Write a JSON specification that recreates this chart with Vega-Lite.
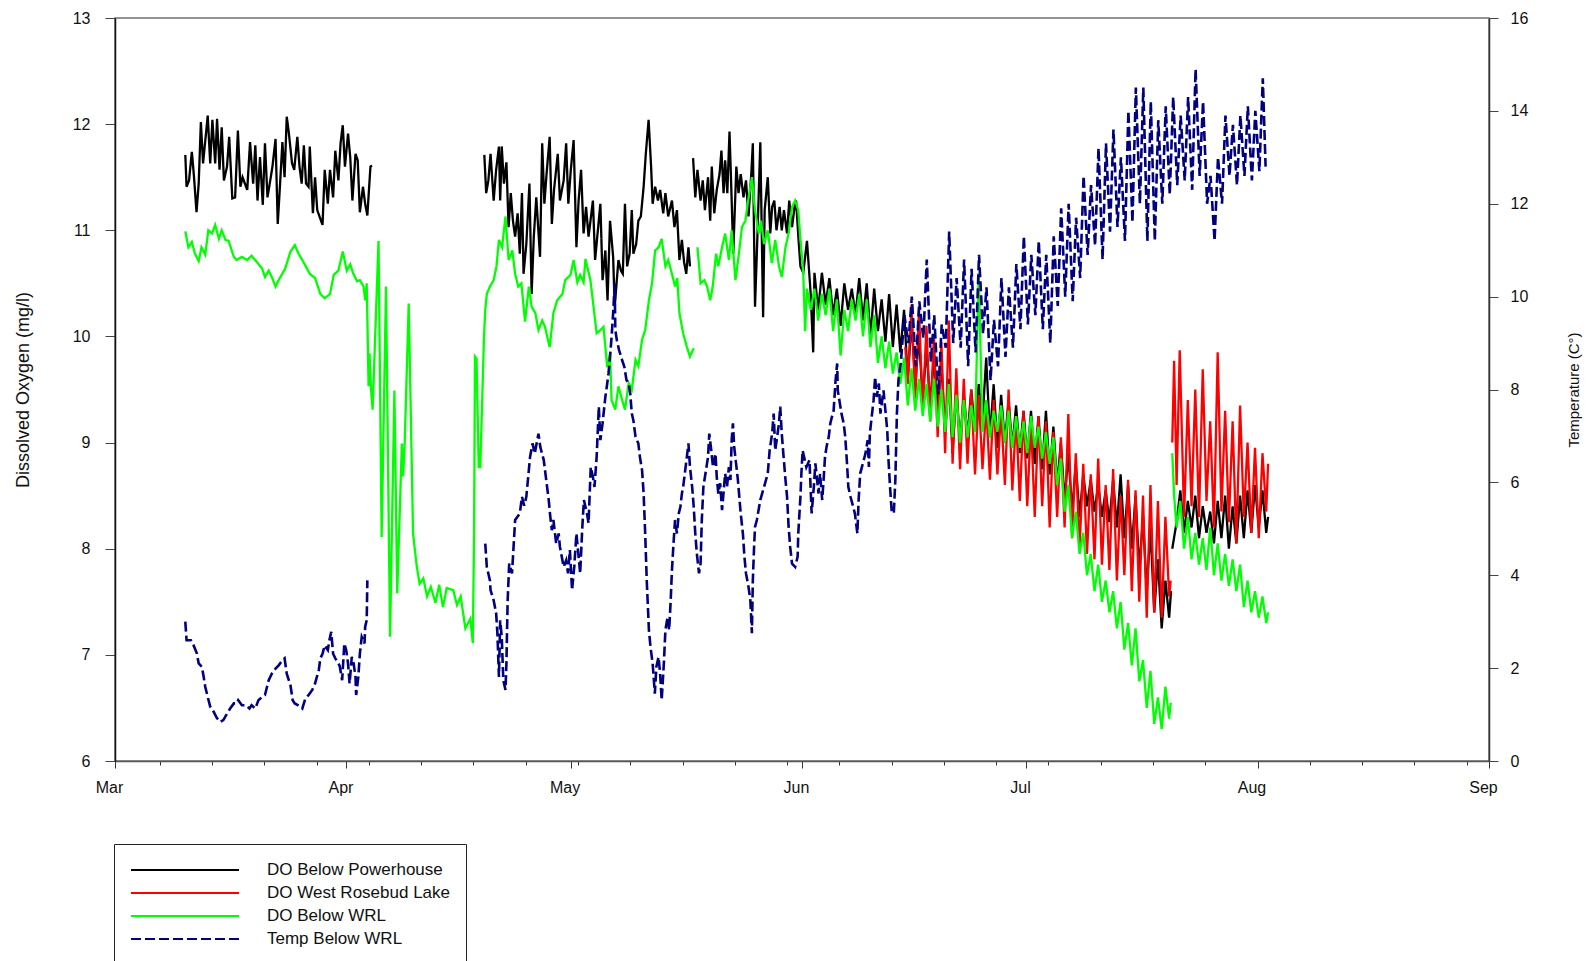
{
  "$schema": "https://vega.github.io/schema/vega-lite/v6.json",
  "width": 1374,
  "height": 743,
  "autosize": {"type": "none"},
  "padding": {"left": 115, "top": 18, "right": 100, "bottom": 200},
  "background": "white",
  "config": {
    "font": "Liberation Sans",
    "view": {"stroke": "#707070", "strokeWidth": 1.5},
    "axis": {"grid": false, "labelFont": "Liberation Sans", "titleFont": "Liberation Sans", "labelColor": "#111111", "titleColor": "#111111", "titleFontWeight": "normal", "labelFlush": false, "labelOverlap": false, "labelBound": false}
  },
  "layer": [
    {
      "data": {
        "format": {"parse": {"t": "date:'%Y-%m-%d %H'"}},
        "values": [
          {"g":"P1","t":"2004-03-10 10","v":11.71},{"g":"P1","t":"2004-03-10 14","v":11.41},{"g":"P1","t":"2004-03-10 22","v":11.47},{"g":"P1","t":"2004-03-11 07","v":11.74},{"g":"P1","t":"2004-03-11 14","v":11.50},{"g":"P1","t":"2004-03-11 22","v":11.17},{"g":"P1","t":"2004-03-12 05","v":11.44},{"g":"P1","t":"2004-03-12 12","v":12.02},{"g":"P1","t":"2004-03-12 19","v":11.63},{"g":"P1","t":"2004-03-13 10","v":12.08},{"g":"P1","t":"2004-03-13 18","v":11.63},{"g":"P1","t":"2004-03-14 01","v":12.04},{"g":"P1","t":"2004-03-14 10","v":11.63},{"g":"P1","t":"2004-03-14 16","v":12.05},{"g":"P1","t":"2004-03-15 00","v":11.57},{"g":"P1","t":"2004-03-15 07","v":11.97},{"g":"P1","t":"2004-03-15 14","v":11.47},{"g":"P1","t":"2004-03-16 00","v":11.60},{"g":"P1","t":"2004-03-16 07","v":11.88},{"g":"P1","t":"2004-03-16 17","v":11.30},{"g":"P1","t":"2004-03-17 02","v":11.31},{"g":"P1","t":"2004-03-17 11","v":11.94},{"g":"P1","t":"2004-03-17 19","v":11.41},{"g":"P1","t":"2004-03-18 02","v":11.50},{"g":"P1","t":"2004-03-18 17","v":11.38},{"g":"P1","t":"2004-03-19 02","v":11.83},{"g":"P1","t":"2004-03-19 12","v":11.44},{"g":"P1","t":"2004-03-19 19","v":11.80},{"g":"P1","t":"2004-03-20 02","v":11.28},{"g":"P1","t":"2004-03-20 10","v":11.69},{"g":"P1","t":"2004-03-20 19","v":11.24},{"g":"P1","t":"2004-03-21 02","v":11.82},{"g":"P1","t":"2004-03-21 10","v":11.31},{"g":"P1","t":"2004-03-21 19","v":11.47},{"g":"P1","t":"2004-03-22 02","v":11.60},{"g":"P1","t":"2004-03-22 12","v":11.86},{"g":"P1","t":"2004-03-22 19","v":11.06},{"g":"P1","t":"2004-03-23 02","v":11.41},{"g":"P1","t":"2004-03-23 10","v":11.83},{"g":"P1","t":"2004-03-23 17","v":11.50},{"g":"P1","t":"2004-03-24 00","v":12.07},{"g":"P1","t":"2004-03-24 07","v":11.91},{"g":"P1","t":"2004-03-24 17","v":11.63},{"g":"P1","t":"2004-03-25 00","v":11.57},{"g":"P1","t":"2004-03-25 10","v":11.88},{"g":"P1","t":"2004-03-25 17","v":11.60},{"g":"P1","t":"2004-03-26 00","v":11.44},{"g":"P1","t":"2004-03-26 07","v":11.80},{"g":"P1","t":"2004-03-26 14","v":11.44},{"g":"P1","t":"2004-03-26 22","v":11.41},{"g":"P1","t":"2004-03-27 02","v":11.79},{"g":"P1","t":"2004-03-27 12","v":11.16},{"g":"P1","t":"2004-03-27 19","v":11.50},{"g":"P1","t":"2004-03-28 02","v":11.19},{"g":"P1","t":"2004-03-28 19","v":11.05},{"g":"P1","t":"2004-03-29 02","v":11.57},{"g":"P1","t":"2004-03-29 12","v":11.25},{"g":"P1","t":"2004-03-29 19","v":11.57},{"g":"P1","t":"2004-03-30 05","v":11.31},{"g":"P1","t":"2004-03-30 12","v":11.75},{"g":"P1","t":"2004-03-30 22","v":11.47},{"g":"P1","t":"2004-03-31 05","v":11.82},{"g":"P1","t":"2004-03-31 12","v":11.99},{"g":"P1","t":"2004-03-31 19","v":11.60},{"g":"P1","t":"2004-04-01 05","v":11.91},{"g":"P1","t":"2004-04-01 12","v":11.69},{"g":"P1","t":"2004-04-01 19","v":11.28},{"g":"P1","t":"2004-04-02 05","v":11.72},{"g":"P1","t":"2004-04-02 12","v":11.66},{"g":"P1","t":"2004-04-02 19","v":11.17},{"g":"P1","t":"2004-04-03 05","v":11.41},{"g":"P1","t":"2004-04-03 12","v":11.25},{"g":"P1","t":"2004-04-03 19","v":11.14},{"g":"P1","t":"2004-04-04 05","v":11.60},{"g":"P1","t":"2004-04-04 10","v":11.61},
          {"g":"P2","t":"2004-04-19 11","v":11.71},{"g":"P2","t":"2004-04-19 17","v":11.35},{"g":"P2","t":"2004-04-20 00","v":11.47},{"g":"P2","t":"2004-04-20 07","v":11.72},{"g":"P2","t":"2004-04-20 17","v":11.28},{"g":"P2","t":"2004-04-21 01","v":11.57},{"g":"P2","t":"2004-04-21 10","v":11.79},{"g":"P2","t":"2004-04-21 14","v":11.28},{"g":"P2","t":"2004-04-21 19","v":11.79},{"g":"P2","t":"2004-04-22 02","v":11.44},{"g":"P2","t":"2004-04-22 10","v":11.64},{"g":"P2","t":"2004-04-22 17","v":11.03},{"g":"P2","t":"2004-04-23 00","v":11.35},{"g":"P2","t":"2004-04-23 07","v":11.09},{"g":"P2","t":"2004-04-23 14","v":10.94},{"g":"P2","t":"2004-04-23 22","v":11.16},{"g":"P2","t":"2004-04-24 05","v":10.78},{"g":"P2","t":"2004-04-24 12","v":11.35},{"g":"P2","t":"2004-04-24 17","v":10.59},{"g":"P2","t":"2004-04-25 02","v":10.87},{"g":"P2","t":"2004-04-25 12","v":11.44},{"g":"P2","t":"2004-04-25 19","v":10.40},{"g":"P2","t":"2004-04-26 02","v":10.94},{"g":"P2","t":"2004-04-26 10","v":11.31},{"g":"P2","t":"2004-04-26 22","v":10.75},{"g":"P2","t":"2004-04-27 05","v":11.82},{"g":"P2","t":"2004-04-27 12","v":11.25},{"g":"P2","t":"2004-04-27 19","v":11.53},{"g":"P2","t":"2004-04-28 05","v":11.88},{"g":"P2","t":"2004-04-28 12","v":11.06},{"g":"P2","t":"2004-04-28 19","v":11.38},{"g":"P2","t":"2004-04-29 07","v":11.72},{"g":"P2","t":"2004-04-29 14","v":11.28},{"g":"P2","t":"2004-04-30 02","v":11.47},{"g":"P2","t":"2004-04-30 10","v":11.82},{"g":"P2","t":"2004-04-30 17","v":11.25},{"g":"P2","t":"2004-05-01 01","v":11.57},{"g":"P2","t":"2004-05-01 10","v":11.85},{"g":"P2","t":"2004-05-01 19","v":10.84},{"g":"P2","t":"2004-05-02 02","v":11.28},{"g":"P2","t":"2004-05-02 10","v":11.57},{"g":"P2","t":"2004-05-02 18","v":10.97},{"g":"P2","t":"2004-05-03 02","v":11.22},{"g":"P2","t":"2004-05-03 10","v":10.94},{"g":"P2","t":"2004-05-04 00","v":11.28},{"g":"P2","t":"2004-05-04 07","v":10.72},{"g":"P2","t":"2004-05-04 14","v":10.94},{"g":"P2","t":"2004-05-05 00","v":11.25},{"g":"P2","t":"2004-05-05 07","v":10.53},{"g":"P2","t":"2004-05-05 16","v":10.81},{"g":"P2","t":"2004-05-05 23","v":10.34},{"g":"P2","t":"2004-05-06 07","v":11.09},{"g":"P2","t":"2004-05-06 17","v":10.75},{"g":"P2","t":"2004-05-06 22","v":10.28},{"g":"P2","t":"2004-05-07 10","v":10.72},{"g":"P2","t":"2004-05-07 18","v":10.62},{"g":"P2","t":"2004-05-08 00","v":10.59},{"g":"P2","t":"2004-05-08 07","v":11.25},{"g":"P2","t":"2004-05-08 14","v":10.66},{"g":"P2","t":"2004-05-08 22","v":10.78},{"g":"P2","t":"2004-05-09 05","v":11.19},{"g":"P2","t":"2004-05-09 10","v":10.78},{"g":"P2","t":"2004-05-09 19","v":10.87},{"g":"P2","t":"2004-05-10 02","v":11.09},{"g":"P2","t":"2004-05-10 10","v":11.13},{"g":"P2","t":"2004-05-10 19","v":11.41},{"g":"P2","t":"2004-05-11 02","v":11.72},{"g":"P2","t":"2004-05-11 11","v":12.04},{"g":"P2","t":"2004-05-11 19","v":11.60},{"g":"P2","t":"2004-05-12 00","v":11.25},{"g":"P2","t":"2004-05-12 08","v":11.41},{"g":"P2","t":"2004-05-12 17","v":11.28},{"g":"P2","t":"2004-05-13 00","v":11.38},{"g":"P2","t":"2004-05-13 10","v":11.16},{"g":"P2","t":"2004-05-13 17","v":11.35},{"g":"P2","t":"2004-05-14 02","v":11.13},{"g":"P2","t":"2004-05-14 14","v":11.28},{"g":"P2","t":"2004-05-14 22","v":11.03},{"g":"P2","t":"2004-05-15 06","v":11.19},{"g":"P2","t":"2004-05-15 14","v":10.72},{"g":"P2","t":"2004-05-15 22","v":10.91},{"g":"P2","t":"2004-05-16 05","v":10.70},{"g":"P2","t":"2004-05-16 12","v":10.59},{"g":"P2","t":"2004-05-16 19","v":10.84},{"g":"P2","t":"2004-05-17 00","v":10.66},
          {"g":"P3","t":"2004-05-17 10","v":11.68},{"g":"P3","t":"2004-05-17 17","v":11.31},{"g":"P3","t":"2004-05-18 00","v":11.57},{"g":"P3","t":"2004-05-18 10","v":11.28},{"g":"P3","t":"2004-05-18 17","v":11.47},{"g":"P3","t":"2004-05-19 00","v":11.19},{"g":"P3","t":"2004-05-19 10","v":11.50},{"g":"P3","t":"2004-05-19 17","v":11.09},{"g":"P3","t":"2004-05-19 22","v":11.60},{"g":"P3","t":"2004-05-20 06","v":11.16},{"g":"P3","t":"2004-05-20 14","v":11.38},{"g":"P3","t":"2004-05-20 23","v":11.53},{"g":"P3","t":"2004-05-21 05","v":11.75},{"g":"P3","t":"2004-05-21 12","v":11.35},{"g":"P3","t":"2004-05-21 17","v":11.66},{"g":"P3","t":"2004-05-22 00","v":11.35},{"g":"P3","t":"2004-05-22 07","v":11.93},{"g":"P3","t":"2004-05-22 14","v":11.28},{"g":"P3","t":"2004-05-22 19","v":10.78},{"g":"P3","t":"2004-05-23 05","v":11.60},{"g":"P3","t":"2004-05-23 12","v":11.35},{"g":"P3","t":"2004-05-23 19","v":11.53},{"g":"P3","t":"2004-05-24 04","v":11.31},{"g":"P3","t":"2004-05-24 12","v":11.47},{"g":"P3","t":"2004-05-24 20","v":11.13},{"g":"P3","t":"2004-05-25 05","v":11.53},{"g":"P3","t":"2004-05-25 10","v":11.82},{"g":"P3","t":"2004-05-25 17","v":10.28},{"g":"P3","t":"2004-05-26 01","v":10.97},{"g":"P3","t":"2004-05-26 10","v":11.83},{"g":"P3","t":"2004-05-26 19","v":10.18},{"g":"P3","t":"2004-05-27 00","v":11.19},{"g":"P3","t":"2004-05-27 10","v":11.50},{"g":"P3","t":"2004-05-27 18","v":10.97},{"g":"P3","t":"2004-05-28 00","v":11.22},{"g":"P3","t":"2004-05-28 07","v":11.28},{"g":"P3","t":"2004-05-28 14","v":11.00},{"g":"P3","t":"2004-05-29 00","v":11.22},{"g":"P3","t":"2004-05-29 07","v":11.00},{"g":"P3","t":"2004-05-29 14","v":11.19},{"g":"P3","t":"2004-05-30 00","v":10.97},{"g":"P3","t":"2004-05-30 07","v":11.28},{"g":"P3","t":"2004-05-30 16","v":11.03},{"g":"P3","t":"2004-05-31 00","v":11.22},{"g":"P3","t":"2004-05-31 05","v":11.28},{"g":"P3","t":"2004-05-31 12","v":10.95},{"g":"P3","t":"2004-05-31 19","v":10.66},{"g":"P3","t":"2004-06-01 04","v":10.6},{"g":"P3","t":"2004-06-01 16","v":10.9},{"g":"P3","t":"2004-06-02 04","v":10.4},{"g":"P3","t":"2004-06-02 12","v":9.85},{"g":"P3","t":"2004-06-02 16","v":10.6},{"g":"P3","t":"2004-06-03 04","v":10.25},{"g":"P3","t":"2004-06-03 16","v":10.6},{"g":"P3","t":"2004-06-04 04","v":10.3},{"g":"P3","t":"2004-06-04 16","v":10.55},{"g":"P3","t":"2004-06-05 04","v":10.2},{"g":"P3","t":"2004-06-05 16","v":10.45},{"g":"P3","t":"2004-06-06 04","v":10.1},{"g":"P3","t":"2004-06-06 16","v":10.5},{"g":"P3","t":"2004-06-07 04","v":10.25},{"g":"P3","t":"2004-06-07 16","v":10.45},{"g":"P3","t":"2004-06-08 04","v":10.2},{"g":"P3","t":"2004-06-08 16","v":10.55},{"g":"P3","t":"2004-06-09 04","v":10.15},{"g":"P3","t":"2004-06-09 16","v":10.5},{"g":"P3","t":"2004-06-10 04","v":10.0},{"g":"P3","t":"2004-06-10 16","v":10.45},{"g":"P3","t":"2004-06-11 04","v":10.05},{"g":"P3","t":"2004-06-11 16","v":10.35},{"g":"P3","t":"2004-06-12 04","v":9.95},{"g":"P3","t":"2004-06-12 16","v":10.4},{"g":"P3","t":"2004-06-13 04","v":9.9},{"g":"P3","t":"2004-06-13 16","v":10.3},{"g":"P3","t":"2004-06-14 04","v":9.85},{"g":"P3","t":"2004-06-14 16","v":10.25},{"g":"P3","t":"2004-06-15 04","v":9.6},{"g":"P3","t":"2004-06-15 16","v":10.15},{"g":"P3","t":"2004-06-16 04","v":9.55},{"g":"P3","t":"2004-06-16 16","v":10.0},{"g":"P3","t":"2004-06-17 04","v":9.4},{"g":"P3","t":"2004-06-17 16","v":9.9},{"g":"P3","t":"2004-06-18 04","v":9.35},{"g":"P3","t":"2004-06-18 16","v":9.8},{"g":"P3","t":"2004-06-19 04","v":9.3},{"g":"P3","t":"2004-06-19 16","v":9.75},{"g":"P3","t":"2004-06-20 04","v":9.1},{"g":"P3","t":"2004-06-20 16","v":9.6},{"g":"P3","t":"2004-06-21 04","v":8.9},{"g":"P3","t":"2004-06-21 16","v":9.5},{"g":"P3","t":"2004-06-22 04","v":9.0},{"g":"P3","t":"2004-06-22 16","v":9.45},{"g":"P3","t":"2004-06-23 04","v":9.05},{"g":"P3","t":"2004-06-23 16","v":9.5},{"g":"P3","t":"2004-06-24 04","v":9.1},{"g":"P3","t":"2004-06-24 16","v":9.55},{"g":"P3","t":"2004-06-25 04","v":9.2},{"g":"P3","t":"2004-06-25 16","v":9.8},{"g":"P3","t":"2004-06-26 04","v":9.05},{"g":"P3","t":"2004-06-26 16","v":9.55},{"g":"P3","t":"2004-06-27 04","v":8.95},{"g":"P3","t":"2004-06-27 16","v":9.45},{"g":"P3","t":"2004-06-28 04","v":9.0},{"g":"P3","t":"2004-06-28 16","v":9.4},{"g":"P3","t":"2004-06-29 04","v":8.95},{"g":"P3","t":"2004-06-29 16","v":9.35},{"g":"P3","t":"2004-06-30 04","v":8.9},{"g":"P3","t":"2004-06-30 16","v":9.3},{"g":"P3","t":"2004-07-01 04","v":8.85},{"g":"P3","t":"2004-07-01 16","v":9.3},{"g":"P3","t":"2004-07-02 04","v":8.8},{"g":"P3","t":"2004-07-02 16","v":9.25},{"g":"P3","t":"2004-07-03 04","v":8.75},{"g":"P3","t":"2004-07-03 16","v":9.3},{"g":"P3","t":"2004-07-04 04","v":8.7},{"g":"P3","t":"2004-07-04 16","v":9.15},{"g":"P3","t":"2004-07-05 04","v":8.6},{"g":"P3","t":"2004-07-05 16","v":9.0},{"g":"P3","t":"2004-07-06 04","v":8.45},{"g":"P3","t":"2004-07-06 16","v":8.9},{"g":"P3","t":"2004-07-07 04","v":8.35},{"g":"P3","t":"2004-07-07 16","v":8.8},{"g":"P3","t":"2004-07-08 04","v":8.3},{"g":"P3","t":"2004-07-08 16","v":8.7},{"g":"P3","t":"2004-07-09 04","v":8.4},{"g":"P3","t":"2004-07-09 16","v":8.65},{"g":"P3","t":"2004-07-10 04","v":8.35},{"g":"P3","t":"2004-07-10 16","v":8.6},{"g":"P3","t":"2004-07-11 04","v":8.3},{"g":"P3","t":"2004-07-11 16","v":8.55},{"g":"P3","t":"2004-07-12 04","v":8.25},{"g":"P3","t":"2004-07-12 16","v":8.65},{"g":"P3","t":"2004-07-13 04","v":8.2},{"g":"P3","t":"2004-07-13 16","v":8.7},{"g":"P3","t":"2004-07-14 04","v":8.1},{"g":"P3","t":"2004-07-14 16","v":8.6},{"g":"P3","t":"2004-07-15 04","v":8.0},{"g":"P3","t":"2004-07-15 16","v":8.5},{"g":"P3","t":"2004-07-16 04","v":7.8},{"g":"P3","t":"2004-07-16 16","v":8.3},{"g":"P3","t":"2004-07-17 04","v":7.6},{"g":"P3","t":"2004-07-17 16","v":8.2},{"g":"P3","t":"2004-07-18 04","v":7.4},{"g":"P3","t":"2004-07-18 16","v":7.9},{"g":"P3","t":"2004-07-19 04","v":7.25},{"g":"P3","t":"2004-07-19 16","v":7.7},{"g":"P3","t":"2004-07-20 04","v":7.35},{"g":"P3","t":"2004-07-20 10","v":7.6},
          {"g":"P4","t":"2004-07-20 14","v":8.0},{"g":"P4","t":"2004-07-21 04","v":8.25},{"g":"P4","t":"2004-07-21 16","v":8.55},{"g":"P4","t":"2004-07-22 04","v":8.15},{"g":"P4","t":"2004-07-22 16","v":8.45},{"g":"P4","t":"2004-07-23 04","v":8.2},{"g":"P4","t":"2004-07-23 16","v":8.5},{"g":"P4","t":"2004-07-24 04","v":8.1},{"g":"P4","t":"2004-07-24 16","v":8.4},{"g":"P4","t":"2004-07-25 04","v":8.15},{"g":"P4","t":"2004-07-25 16","v":8.35},{"g":"P4","t":"2004-07-26 04","v":8.05},{"g":"P4","t":"2004-07-26 16","v":8.45},{"g":"P4","t":"2004-07-27 04","v":8.1},{"g":"P4","t":"2004-07-27 16","v":8.5},{"g":"P4","t":"2004-07-28 04","v":8.0},{"g":"P4","t":"2004-07-28 16","v":8.4},{"g":"P4","t":"2004-07-29 04","v":8.05},{"g":"P4","t":"2004-07-29 16","v":8.5},{"g":"P4","t":"2004-07-30 04","v":8.1},{"g":"P4","t":"2004-07-30 16","v":8.55},{"g":"P4","t":"2004-07-31 04","v":8.15},{"g":"P4","t":"2004-07-31 16","v":8.6},{"g":"P4","t":"2004-08-01 04","v":8.2},{"g":"P4","t":"2004-08-01 16","v":8.55},{"g":"P4","t":"2004-08-02 04","v":8.15},{"g":"P4","t":"2004-08-02 10","v":8.3},
          {"g":"L1","t":"2004-06-14 20","v":9.9},{"g":"L1","t":"2004-06-15 04","v":9.55},{"g":"L1","t":"2004-06-15 16","v":10.3},{"g":"L1","t":"2004-06-16 04","v":9.4},{"g":"L1","t":"2004-06-16 16","v":10.25},{"g":"L1","t":"2004-06-17 04","v":9.3},{"g":"L1","t":"2004-06-17 16","v":10.1},{"g":"L1","t":"2004-06-18 04","v":9.2},{"g":"L1","t":"2004-06-18 16","v":10.0},{"g":"L1","t":"2004-06-19 04","v":9.05},{"g":"L1","t":"2004-06-19 16","v":9.95},{"g":"L1","t":"2004-06-20 04","v":8.9},{"g":"L1","t":"2004-06-20 16","v":10.15},{"g":"L1","t":"2004-06-21 04","v":8.8},{"g":"L1","t":"2004-06-21 16","v":9.7},{"g":"L1","t":"2004-06-22 04","v":8.75},{"g":"L1","t":"2004-06-22 16","v":9.6},{"g":"L1","t":"2004-06-23 04","v":8.8},{"g":"L1","t":"2004-06-23 16","v":9.5},{"g":"L1","t":"2004-06-24 04","v":8.7},{"g":"L1","t":"2004-06-24 16","v":9.45},{"g":"L1","t":"2004-06-25 04","v":8.75},{"g":"L1","t":"2004-06-25 16","v":9.35},{"g":"L1","t":"2004-06-26 04","v":8.65},{"g":"L1","t":"2004-06-26 16","v":9.4},{"g":"L1","t":"2004-06-27 04","v":8.7},{"g":"L1","t":"2004-06-27 16","v":9.3},{"g":"L1","t":"2004-06-28 04","v":8.6},{"g":"L1","t":"2004-06-28 16","v":9.5},{"g":"L1","t":"2004-06-29 04","v":8.55},{"g":"L1","t":"2004-06-29 16","v":9.25},{"g":"L1","t":"2004-06-30 04","v":8.45},{"g":"L1","t":"2004-06-30 16","v":9.3},{"g":"L1","t":"2004-07-01 04","v":8.4},{"g":"L1","t":"2004-07-01 16","v":9.2},{"g":"L1","t":"2004-07-02 04","v":8.3},{"g":"L1","t":"2004-07-02 16","v":9.25},{"g":"L1","t":"2004-07-03 04","v":8.4},{"g":"L1","t":"2004-07-03 16","v":9.2},{"g":"L1","t":"2004-07-04 04","v":8.2},{"g":"L1","t":"2004-07-04 16","v":9.1},{"g":"L1","t":"2004-07-05 04","v":8.3},{"g":"L1","t":"2004-07-05 16","v":9.05},{"g":"L1","t":"2004-07-06 04","v":8.2},{"g":"L1","t":"2004-07-06 16","v":9.27},{"g":"L1","t":"2004-07-07 04","v":8.1},{"g":"L1","t":"2004-07-07 16","v":8.9},{"g":"L1","t":"2004-07-08 04","v":8.0},{"g":"L1","t":"2004-07-08 16","v":8.8},{"g":"L1","t":"2004-07-09 04","v":7.95},{"g":"L1","t":"2004-07-09 16","v":8.7},{"g":"L1","t":"2004-07-10 04","v":7.9},{"g":"L1","t":"2004-07-10 16","v":8.85},{"g":"L1","t":"2004-07-11 04","v":7.85},{"g":"L1","t":"2004-07-11 16","v":8.6},{"g":"L1","t":"2004-07-12 04","v":7.8},{"g":"L1","t":"2004-07-12 16","v":8.75},{"g":"L1","t":"2004-07-13 04","v":7.7},{"g":"L1","t":"2004-07-13 16","v":8.5},{"g":"L1","t":"2004-07-14 04","v":7.75},{"g":"L1","t":"2004-07-14 16","v":8.65},{"g":"L1","t":"2004-07-15 04","v":7.6},{"g":"L1","t":"2004-07-15 16","v":8.55},{"g":"L1","t":"2004-07-16 04","v":7.5},{"g":"L1","t":"2004-07-16 16","v":8.5},{"g":"L1","t":"2004-07-17 04","v":7.35},{"g":"L1","t":"2004-07-17 16","v":8.6},{"g":"L1","t":"2004-07-18 04","v":7.4},{"g":"L1","t":"2004-07-18 16","v":8.45},{"g":"L1","t":"2004-07-19 04","v":7.35},{"g":"L1","t":"2004-07-19 16","v":8.3},{"g":"L1","t":"2004-07-20 04","v":7.55},{"g":"L1","t":"2004-07-20 09","v":7.7},
          {"g":"L2","t":"2004-07-20 14","v":9.0},{"g":"L2","t":"2004-07-20 20","v":9.77},{"g":"L2","t":"2004-07-21 04","v":8.6},{"g":"L2","t":"2004-07-21 14","v":9.87},{"g":"L2","t":"2004-07-22 04","v":8.3},{"g":"L2","t":"2004-07-22 16","v":9.4},{"g":"L2","t":"2004-07-23 04","v":8.4},{"g":"L2","t":"2004-07-23 16","v":9.5},{"g":"L2","t":"2004-07-24 04","v":8.3},{"g":"L2","t":"2004-07-24 16","v":9.69},{"g":"L2","t":"2004-07-25 04","v":8.45},{"g":"L2","t":"2004-07-25 16","v":9.2},{"g":"L2","t":"2004-07-26 04","v":8.2},{"g":"L2","t":"2004-07-26 16","v":9.85},{"g":"L2","t":"2004-07-27 04","v":8.35},{"g":"L2","t":"2004-07-27 16","v":9.3},{"g":"L2","t":"2004-07-28 04","v":8.25},{"g":"L2","t":"2004-07-28 16","v":9.2},{"g":"L2","t":"2004-07-29 04","v":8.05},{"g":"L2","t":"2004-07-29 16","v":9.35},{"g":"L2","t":"2004-07-30 04","v":8.3},{"g":"L2","t":"2004-07-30 16","v":9.0},{"g":"L2","t":"2004-07-31 04","v":8.15},{"g":"L2","t":"2004-07-31 16","v":8.95},{"g":"L2","t":"2004-08-01 04","v":8.1},{"g":"L2","t":"2004-08-01 16","v":8.9},{"g":"L2","t":"2004-08-02 04","v":8.35},{"g":"L2","t":"2004-08-02 10","v":8.8},
          {"g":"W1","t":"2004-03-10 10","v":10.99},{"g":"W1","t":"2004-03-10 20","v":10.84},{"g":"W1","t":"2004-03-11 07","v":10.89},{"g":"W1","t":"2004-03-11 17","v":10.78},{"g":"W1","t":"2004-03-12 05","v":10.71},{"g":"W1","t":"2004-03-12 14","v":10.84},{"g":"W1","t":"2004-03-13 02","v":10.77},{"g":"W1","t":"2004-03-13 12","v":11.0},{"g":"W1","t":"2004-03-14 00","v":10.97},{"g":"W1","t":"2004-03-14 10","v":11.05},{"g":"W1","t":"2004-03-14 22","v":10.92},{"g":"W1","t":"2004-03-15 07","v":11.0},{"g":"W1","t":"2004-03-15 19","v":10.91},{"g":"W1","t":"2004-03-16 05","v":10.9},{"g":"W1","t":"2004-03-16 22","v":10.75},{"g":"W1","t":"2004-03-17 07","v":10.72},{"g":"W1","t":"2004-03-18 00","v":10.75},{"g":"W1","t":"2004-03-18 17","v":10.72},{"g":"W1","t":"2004-03-19 07","v":10.76},{"g":"W1","t":"2004-03-20 00","v":10.70},{"g":"W1","t":"2004-03-20 17","v":10.64},{"g":"W1","t":"2004-03-21 02","v":10.56},{"g":"W1","t":"2004-03-21 14","v":10.62},{"g":"W1","t":"2004-03-22 00","v":10.56},{"g":"W1","t":"2004-03-22 12","v":10.47},{"g":"W1","t":"2004-03-22 22","v":10.53},{"g":"W1","t":"2004-03-23 19","v":10.64},{"g":"W1","t":"2004-03-24 12","v":10.80},{"g":"W1","t":"2004-03-25 02","v":10.86},{"g":"W1","t":"2004-03-25 14","v":10.78},{"g":"W1","t":"2004-03-26 00","v":10.73},{"g":"W1","t":"2004-03-26 17","v":10.64},{"g":"W1","t":"2004-03-27 02","v":10.59},{"g":"W1","t":"2004-03-27 19","v":10.55},{"g":"W1","t":"2004-03-28 12","v":10.40},{"g":"W1","t":"2004-03-29 02","v":10.36},{"g":"W1","t":"2004-03-29 19","v":10.40},{"g":"W1","t":"2004-03-30 07","v":10.58},{"g":"W1","t":"2004-03-30 22","v":10.62},{"g":"W1","t":"2004-03-31 12","v":10.80},{"g":"W1","t":"2004-04-01 01","v":10.62},{"g":"W1","t":"2004-04-01 12","v":10.68},{"g":"W1","t":"2004-04-01 22","v":10.59},{"g":"W1","t":"2004-04-02 10","v":10.52},{"g":"W1","t":"2004-04-02 19","v":10.53},{"g":"W1","t":"2004-04-03 07","v":10.47},{"g":"W1","t":"2004-04-03 12","v":10.34},{"g":"W1","t":"2004-04-03 17","v":10.50},{"g":"W1","t":"2004-04-03 23","v":9.53},{"g":"W1","t":"2004-04-04 02","v":9.84},{"g":"W1","t":"2004-04-04 07","v":9.5},{"g":"W1","t":"2004-04-04 12","v":9.31},{"g":"W1","t":"2004-04-04 19","v":9.9},{"g":"W1","t":"2004-04-05 07","v":10.9},{"g":"W1","t":"2004-04-05 17","v":8.11},{"g":"W1","t":"2004-04-06 07","v":10.47},{"g":"W1","t":"2004-04-06 20","v":7.17},{"g":"W1","t":"2004-04-07 10","v":9.49},{"g":"W1","t":"2004-04-07 19","v":7.58},{"g":"W1","t":"2004-04-08 10","v":8.99},{"g":"W1","t":"2004-04-08 14","v":8.68},{"g":"W1","t":"2004-04-08 19","v":8.99},{"g":"W1","t":"2004-04-09 08","v":10.31},{"g":"W1","t":"2004-04-09 22","v":8.14},{"g":"W1","t":"2004-04-10 10","v":7.83},{"g":"W1","t":"2004-04-10 19","v":7.67},{"g":"W1","t":"2004-04-11 07","v":7.72},{"g":"W1","t":"2004-04-11 19","v":7.55},{"g":"W1","t":"2004-04-12 07","v":7.64},{"g":"W1","t":"2004-04-12 22","v":7.49},{"g":"W1","t":"2004-04-13 10","v":7.66},{"g":"W1","t":"2004-04-13 22","v":7.45},{"g":"W1","t":"2004-04-14 10","v":7.63},{"g":"W1","t":"2004-04-15 07","v":7.61},{"g":"W1","t":"2004-04-15 19","v":7.47},{"g":"W1","t":"2004-04-16 07","v":7.55},{"g":"W1","t":"2004-04-16 22","v":7.25},{"g":"W1","t":"2004-04-17 14","v":7.34},{"g":"W1","t":"2004-04-17 22","v":7.11},{"g":"W1","t":"2004-04-18 02","v":8.14},{"g":"W1","t":"2004-04-18 05","v":9.81},{"g":"W1","t":"2004-04-18 10","v":9.79},{"g":"W1","t":"2004-04-18 17","v":8.77},{"g":"W1","t":"2004-04-18 22","v":8.77},{"g":"W1","t":"2004-04-19 10","v":10.0},{"g":"W1","t":"2004-04-19 14","v":10.25},{"g":"W1","t":"2004-04-19 19","v":10.4},{"g":"W1","t":"2004-04-20 05","v":10.47},{"g":"W1","t":"2004-04-20 17","v":10.53},{"g":"W1","t":"2004-04-21 02","v":10.66},{"g":"W1","t":"2004-04-21 10","v":10.91},{"g":"W1","t":"2004-04-21 20","v":10.84},{"g":"W1","t":"2004-04-22 07","v":11.13},{"g":"W1","t":"2004-04-22 17","v":10.72},{"g":"W1","t":"2004-04-23 05","v":10.81},{"g":"W1","t":"2004-04-23 14","v":10.59},{"g":"W1","t":"2004-04-24 00","v":10.47},{"g":"W1","t":"2004-04-24 10","v":10.50},{"g":"W1","t":"2004-04-24 22","v":10.14},{"g":"W1","t":"2004-04-25 10","v":10.47},{"g":"W1","t":"2004-04-25 19","v":10.28},{"g":"W1","t":"2004-04-26 07","v":10.22},{"g":"W1","t":"2004-04-26 17","v":10.06},{"g":"W1","t":"2004-04-27 05","v":10.15},{"g":"W1","t":"2004-04-27 14","v":10.09},{"g":"W1","t":"2004-04-28 05","v":9.90},{"g":"W1","t":"2004-04-28 17","v":10.22},{"g":"W1","t":"2004-04-29 05","v":10.34},{"g":"W1","t":"2004-04-29 22","v":10.40},{"g":"W1","t":"2004-04-30 07","v":10.53},{"g":"W1","t":"2004-05-01 00","v":10.58},{"g":"W1","t":"2004-05-01 10","v":10.72},{"g":"W1","t":"2004-05-01 22","v":10.51},{"g":"W1","t":"2004-05-02 07","v":10.58},{"g":"W1","t":"2004-05-02 18","v":10.51},{"g":"W1","t":"2004-05-03 00","v":10.73},{"g":"W1","t":"2004-05-03 16","v":10.53},{"g":"W1","t":"2004-05-04 02","v":10.28},{"g":"W1","t":"2004-05-04 12","v":10.03},{"g":"W1","t":"2004-05-05 00","v":10.06},{"g":"W1","t":"2004-05-05 10","v":10.09},{"g":"W1","t":"2004-05-05 22","v":9.71},{"g":"W1","t":"2004-05-06 07","v":9.84},{"g":"W1","t":"2004-05-06 12","v":9.40},{"g":"W1","t":"2004-05-07 00","v":9.31},{"g":"W1","t":"2004-05-07 10","v":9.53},{"g":"W1","t":"2004-05-07 22","v":9.40},{"g":"W1","t":"2004-05-08 07","v":9.31},{"g":"W1","t":"2004-05-08 19","v":9.56},{"g":"W1","t":"2004-05-09 05","v":9.50},{"g":"W1","t":"2004-05-09 17","v":9.78},{"g":"W1","t":"2004-05-10 02","v":9.72},{"g":"W1","t":"2004-05-10 14","v":9.97},{"g":"W1","t":"2004-05-11 00","v":10.06},{"g":"W1","t":"2004-05-11 12","v":10.34},{"g":"W1","t":"2004-05-11 22","v":10.50},{"g":"W1","t":"2004-05-12 08","v":10.81},{"g":"W1","t":"2004-05-12 19","v":10.84},{"g":"W1","t":"2004-05-13 05","v":10.92},{"g":"W1","t":"2004-05-13 17","v":10.66},{"g":"W1","t":"2004-05-14 02","v":10.72},{"g":"W1","t":"2004-05-14 14","v":10.59},{"g":"W1","t":"2004-05-15 00","v":10.47},{"g":"W1","t":"2004-05-15 07","v":10.55},{"g":"W1","t":"2004-05-15 14","v":10.22},{"g":"W1","t":"2004-05-16 02","v":10.03},{"g":"W1","t":"2004-05-16 14","v":9.90},{"g":"W1","t":"2004-05-17 00","v":9.81},{"g":"W1","t":"2004-05-17 12","v":9.89},
          {"g":"W2","t":"2004-05-18 00","v":10.84},{"g":"W2","t":"2004-05-18 10","v":10.50},{"g":"W2","t":"2004-05-18 22","v":10.53},{"g":"W2","t":"2004-05-19 07","v":10.47},{"g":"W2","t":"2004-05-19 17","v":10.34},{"g":"W2","t":"2004-05-20 01","v":10.47},{"g":"W2","t":"2004-05-20 12","v":10.78},{"g":"W2","t":"2004-05-20 19","v":10.66},{"g":"W2","t":"2004-05-21 07","v":10.84},{"g":"W2","t":"2004-05-21 17","v":10.97},{"g":"W2","t":"2004-05-22 05","v":10.72},{"g":"W2","t":"2004-05-22 14","v":11.00},{"g":"W2","t":"2004-05-23 02","v":10.53},{"g":"W2","t":"2004-05-23 12","v":10.75},{"g":"W2","t":"2004-05-23 23","v":11.03},{"g":"W2","t":"2004-05-24 10","v":11.09},{"g":"W2","t":"2004-05-24 19","v":11.28},{"g":"W2","t":"2004-05-25 07","v":11.50},{"g":"W2","t":"2004-05-25 17","v":11.19},{"g":"W2","t":"2004-05-26 05","v":10.97},{"g":"W2","t":"2004-05-26 12","v":11.09},{"g":"W2","t":"2004-05-26 22","v":10.87},{"g":"W2","t":"2004-05-27 10","v":11.00},{"g":"W2","t":"2004-05-27 23","v":10.69},{"g":"W2","t":"2004-05-28 10","v":10.91},{"g":"W2","t":"2004-05-28 22","v":10.66},{"g":"W2","t":"2004-05-29 07","v":10.56},{"g":"W2","t":"2004-05-29 19","v":10.84},{"g":"W2","t":"2004-05-30 05","v":10.97},{"g":"W2","t":"2004-05-30 16","v":11.22},{"g":"W2","t":"2004-05-31 02","v":11.28},{"g":"W2","t":"2004-05-31 12","v":11.19},{"g":"W2","t":"2004-05-31 18","v":10.95},{"g":"W2","t":"2004-06-01 04","v":10.6},{"g":"W2","t":"2004-06-01 10","v":10.05},{"g":"W2","t":"2004-06-01 16","v":10.45},{"g":"W2","t":"2004-06-02 04","v":10.25},{"g":"W2","t":"2004-06-02 16","v":10.45},{"g":"W2","t":"2004-06-03 04","v":10.15},{"g":"W2","t":"2004-06-03 16","v":10.4},{"g":"W2","t":"2004-06-04 04","v":10.2},{"g":"W2","t":"2004-06-04 16","v":10.45},{"g":"W2","t":"2004-06-05 04","v":10.05},{"g":"W2","t":"2004-06-05 16","v":10.35},{"g":"W2","t":"2004-06-06 04","v":9.82},{"g":"W2","t":"2004-06-06 16","v":10.25},{"g":"W2","t":"2004-06-07 04","v":10.05},{"g":"W2","t":"2004-06-07 16","v":10.35},{"g":"W2","t":"2004-06-08 04","v":10.15},{"g":"W2","t":"2004-06-08 16","v":10.4},{"g":"W2","t":"2004-06-09 04","v":10.0},{"g":"W2","t":"2004-06-09 16","v":10.35},{"g":"W2","t":"2004-06-10 04","v":9.9},{"g":"W2","t":"2004-06-10 16","v":10.2},{"g":"W2","t":"2004-06-11 04","v":9.75},{"g":"W2","t":"2004-06-11 16","v":10.0},{"g":"W2","t":"2004-06-12 04","v":9.7},{"g":"W2","t":"2004-06-12 16","v":9.95},{"g":"W2","t":"2004-06-13 04","v":9.65},{"g":"W2","t":"2004-06-13 16","v":9.85},{"g":"W2","t":"2004-06-14 04","v":9.55},{"g":"W2","t":"2004-06-14 16","v":9.8},{"g":"W2","t":"2004-06-15 04","v":9.35},{"g":"W2","t":"2004-06-15 16","v":9.7},{"g":"W2","t":"2004-06-16 04","v":9.3},{"g":"W2","t":"2004-06-16 16","v":9.6},{"g":"W2","t":"2004-06-17 04","v":9.25},{"g":"W2","t":"2004-06-17 16","v":9.55},{"g":"W2","t":"2004-06-18 04","v":9.2},{"g":"W2","t":"2004-06-18 16","v":9.6},{"g":"W2","t":"2004-06-19 04","v":9.15},{"g":"W2","t":"2004-06-19 16","v":9.5},{"g":"W2","t":"2004-06-20 04","v":9.1},{"g":"W2","t":"2004-06-20 16","v":9.55},{"g":"W2","t":"2004-06-21 04","v":9.05},{"g":"W2","t":"2004-06-21 16","v":9.45},{"g":"W2","t":"2004-06-22 04","v":9.0},{"g":"W2","t":"2004-06-22 16","v":9.4},{"g":"W2","t":"2004-06-23 04","v":9.05},{"g":"W2","t":"2004-06-23 16","v":9.35},{"g":"W2","t":"2004-06-24 04","v":9.1},{"g":"W2","t":"2004-06-24 16","v":10.6},{"g":"W2","t":"2004-06-25 04","v":9.1},{"g":"W2","t":"2004-06-25 16","v":9.4},{"g":"W2","t":"2004-06-26 04","v":9.05},{"g":"W2","t":"2004-06-26 16","v":9.3},{"g":"W2","t":"2004-06-27 04","v":9.1},{"g":"W2","t":"2004-06-27 16","v":9.35},{"g":"W2","t":"2004-06-28 04","v":9.0},{"g":"W2","t":"2004-06-28 16","v":9.3},{"g":"W2","t":"2004-06-29 04","v":8.95},{"g":"W2","t":"2004-06-29 16","v":9.25},{"g":"W2","t":"2004-06-30 04","v":8.95},{"g":"W2","t":"2004-06-30 16","v":9.2},{"g":"W2","t":"2004-07-01 04","v":8.9},{"g":"W2","t":"2004-07-01 16","v":9.25},{"g":"W2","t":"2004-07-02 04","v":8.95},{"g":"W2","t":"2004-07-02 16","v":9.15},{"g":"W2","t":"2004-07-03 04","v":8.85},{"g":"W2","t":"2004-07-03 16","v":9.1},{"g":"W2","t":"2004-07-04 04","v":8.8},{"g":"W2","t":"2004-07-04 16","v":9.05},{"g":"W2","t":"2004-07-05 04","v":8.6},{"g":"W2","t":"2004-07-05 16","v":8.85},{"g":"W2","t":"2004-07-06 04","v":8.35},{"g":"W2","t":"2004-07-06 16","v":8.6},{"g":"W2","t":"2004-07-07 04","v":8.1},{"g":"W2","t":"2004-07-07 16","v":8.35},{"g":"W2","t":"2004-07-08 04","v":7.95},{"g":"W2","t":"2004-07-08 16","v":8.15},{"g":"W2","t":"2004-07-09 04","v":7.75},{"g":"W2","t":"2004-07-09 16","v":7.95},{"g":"W2","t":"2004-07-10 04","v":7.6},{"g":"W2","t":"2004-07-10 16","v":7.85},{"g":"W2","t":"2004-07-11 04","v":7.5},{"g":"W2","t":"2004-07-11 16","v":7.7},{"g":"W2","t":"2004-07-12 04","v":7.4},{"g":"W2","t":"2004-07-12 16","v":7.6},{"g":"W2","t":"2004-07-13 04","v":7.25},{"g":"W2","t":"2004-07-13 16","v":7.5},{"g":"W2","t":"2004-07-14 04","v":7.05},{"g":"W2","t":"2004-07-14 16","v":7.3},{"g":"W2","t":"2004-07-15 04","v":6.9},{"g":"W2","t":"2004-07-15 16","v":7.25},{"g":"W2","t":"2004-07-16 04","v":6.75},{"g":"W2","t":"2004-07-16 16","v":6.95},{"g":"W2","t":"2004-07-17 04","v":6.5},{"g":"W2","t":"2004-07-17 16","v":6.85},{"g":"W2","t":"2004-07-18 04","v":6.35},{"g":"W2","t":"2004-07-18 16","v":6.6},{"g":"W2","t":"2004-07-19 04","v":6.3},{"g":"W2","t":"2004-07-19 16","v":6.7},{"g":"W2","t":"2004-07-20 04","v":6.4},{"g":"W2","t":"2004-07-20 09","v":6.55},
          {"g":"W3","t":"2004-07-20 14","v":8.9},{"g":"W3","t":"2004-07-20 20","v":8.5},{"g":"W3","t":"2004-07-21 04","v":8.2},{"g":"W3","t":"2004-07-21 16","v":8.45},{"g":"W3","t":"2004-07-22 04","v":8.0},{"g":"W3","t":"2004-07-22 16","v":8.3},{"g":"W3","t":"2004-07-23 04","v":7.9},{"g":"W3","t":"2004-07-23 16","v":8.15},{"g":"W3","t":"2004-07-24 04","v":7.85},{"g":"W3","t":"2004-07-24 16","v":8.1},{"g":"W3","t":"2004-07-25 04","v":7.8},{"g":"W3","t":"2004-07-25 16","v":8.2},{"g":"W3","t":"2004-07-26 04","v":7.75},{"g":"W3","t":"2004-07-26 16","v":8.05},{"g":"W3","t":"2004-07-27 04","v":7.7},{"g":"W3","t":"2004-07-27 16","v":7.95},{"g":"W3","t":"2004-07-28 04","v":7.65},{"g":"W3","t":"2004-07-28 16","v":7.9},{"g":"W3","t":"2004-07-29 04","v":7.6},{"g":"W3","t":"2004-07-29 16","v":7.85},{"g":"W3","t":"2004-07-30 04","v":7.45},{"g":"W3","t":"2004-07-30 16","v":7.7},{"g":"W3","t":"2004-07-31 04","v":7.4},{"g":"W3","t":"2004-07-31 16","v":7.6},{"g":"W3","t":"2004-08-01 04","v":7.35},{"g":"W3","t":"2004-08-01 16","v":7.55},{"g":"W3","t":"2004-08-02 04","v":7.3},{"g":"W3","t":"2004-08-02 10","v":7.4}
        ]
      },
      "mark": {"type": "line", "strokeWidth": 2.3, "clip": true},
      "encoding": {
        "x": {
          "field": "t", "type": "temporal", "title": null,
          "scale": {"domain": [{"year": 2004, "month": 3, "date": 1}, {"year": 2004, "month": 9, "date": 1}]},
          "axis": {
            "values": [
              {"year": 2004, "month": 3, "date": 1}, {"year": 2004, "month": 3, "date": 7}, {"year": 2004, "month": 3, "date": 14}, {"year": 2004, "month": 3, "date": 21}, {"year": 2004, "month": 3, "date": 28},
              {"year": 2004, "month": 4, "date": 1}, {"year": 2004, "month": 4, "date": 4}, {"year": 2004, "month": 4, "date": 11}, {"year": 2004, "month": 4, "date": 18}, {"year": 2004, "month": 4, "date": 25},
              {"year": 2004, "month": 5, "date": 1}, {"year": 2004, "month": 5, "date": 2}, {"year": 2004, "month": 5, "date": 9}, {"year": 2004, "month": 5, "date": 16}, {"year": 2004, "month": 5, "date": 23}, {"year": 2004, "month": 5, "date": 30},
              {"year": 2004, "month": 6, "date": 1}, {"year": 2004, "month": 6, "date": 6}, {"year": 2004, "month": 6, "date": 13}, {"year": 2004, "month": 6, "date": 20}, {"year": 2004, "month": 6, "date": 27},
              {"year": 2004, "month": 7, "date": 1}, {"year": 2004, "month": 7, "date": 4}, {"year": 2004, "month": 7, "date": 11}, {"year": 2004, "month": 7, "date": 18}, {"year": 2004, "month": 7, "date": 25},
              {"year": 2004, "month": 8, "date": 1}, {"year": 2004, "month": 8, "date": 8}, {"year": 2004, "month": 8, "date": 15}, {"year": 2004, "month": 8, "date": 22}, {"year": 2004, "month": 8, "date": 29},
              {"year": 2004, "month": 9, "date": 1}
            ],
            "labelExpr": "date(datum.value) == 1 ? timeFormat(datum.value, '%b') : ''",
            "tickSize": {"condition": {"test": "date(datum.value) == 1", "value": 7}, "value": 4},
            "tickColor": "#333333",
            "domainColor": "#555555",
            "domainWidth": 1.5,
            "labelFontSize": 16,
            "labelPadding": 11,
            "labelOffset": -6
          }
        },
        "y": {
          "field": "v", "type": "quantitative",
          "scale": {"domain": [6, 13], "nice": false, "zero": false},
          "axis": {
            "orient": "left",
            "values": [6, 7, 8, 9, 10, 11, 12, 13],
            "title": "Dissolved Oxygen (mg/l)",
            "titleFontSize": 18,
            "titleAngle": 270,
            "titleX": -83,
            "titleY": 371.5,
            "titleAlign": "center",
            "titleBaseline": "bottom",
            "tickSize": 10,
            "tickColor": "#444444",
            "domainColor": "#111111",
            "domainWidth": 1.5,
            "labelFontSize": 16,
            "labelPadding": 15
          }
        },
        "color": {
          "field": "g", "type": "nominal",
          "scale": {
            "domain": ["P1", "P2", "P3", "P4", "L1", "L2", "W1", "W2", "W3", "T1", "T2"],
            "range": ["#000000", "#000000", "#000000", "#000000", "#ff0000", "#ff0000", "#00ff00", "#00ff00", "#00ff00", "#000080", "#000080"]
          },
          "legend": {
            "orient": "none",
            "legendX": -1,
            "legendY": 826,
            "title": null,
            "direction": "vertical",
            "values": ["P1", "L1", "W1", "T1"],
            "labelExpr": "datum.value == 'P1' ? 'DO Below Powerhouse' : datum.value == 'L1' ? 'DO West Rosebud Lake' : datum.value == 'W1' ? 'DO Below WRL' : 'Temp Below WRL'",
            "symbolType": "M-1,0H11",
            "symbolSize": 324,
            "symbolStrokeWidth": 2,
            "labelOffset": 117,
            "labelFontSize": 17,
            "labelFont": "Liberation Sans",
            "labelColor": "#111111",
            "labelLimit": 400,
            "rowPadding": 5,
            "padding": 16,
            "strokeColor": "#222222",
            "fillColor": "white"
          }
        },
        "strokeDash": {
          "field": "g", "type": "nominal", "legend": null,
          "scale": {
            "domain": ["P1", "P2", "P3", "P4", "L1", "L2", "W1", "W2", "W3", "T1", "T2"],
            "range": [[1, 0], [1, 0], [1, 0], [1, 0], [1, 0], [1, 0], [1, 0], [1, 0], [1, 0], [10, 4], [10, 4]]
          }
        }
      }
    },
    {
      "data": {
        "format": {"parse": {"t": "date:'%Y-%m-%d %H'"}},
        "values": [
          {"g":"T1","t":"2004-03-10 10","v":3.0},{"g":"T1","t":"2004-03-10 14","v":2.6},{"g":"T1","t":"2004-03-11 04","v":2.6},{"g":"T1","t":"2004-03-11 12","v":2.5},{"g":"T1","t":"2004-03-11 23","v":2.32},{"g":"T1","t":"2004-03-12 05","v":2.1},{"g":"T1","t":"2004-03-12 15","v":2.03},{"g":"T1","t":"2004-03-12 20","v":1.85},{"g":"T1","t":"2004-03-13 02","v":1.6},{"g":"T1","t":"2004-03-13 10","v":1.38},{"g":"T1","t":"2004-03-13 18","v":1.17},{"g":"T1","t":"2004-03-14 05","v":1.06},{"g":"T1","t":"2004-03-14 15","v":0.93},{"g":"T1","t":"2004-03-15 02","v":0.84},{"g":"T1","t":"2004-03-15 12","v":0.88},{"g":"T1","t":"2004-03-16 00","v":1.02},{"g":"T1","t":"2004-03-16 10","v":1.13},{"g":"T1","t":"2004-03-16 22","v":1.24},{"g":"T1","t":"2004-03-17 07","v":1.24},{"g":"T1","t":"2004-03-17 12","v":1.31},{"g":"T1","t":"2004-03-18 00","v":1.2},{"g":"T1","t":"2004-03-18 14","v":1.2},{"g":"T1","t":"2004-03-19 00","v":1.13},{"g":"T1","t":"2004-03-19 07","v":1.2},{"g":"T1","t":"2004-03-19 19","v":1.13},{"g":"T1","t":"2004-03-20 05","v":1.31},{"g":"T1","t":"2004-03-20 17","v":1.38},{"g":"T1","t":"2004-03-21 02","v":1.42},{"g":"T1","t":"2004-03-21 14","v":1.74},{"g":"T1","t":"2004-03-22 00","v":1.88},{"g":"T1","t":"2004-03-22 12","v":1.99},{"g":"T1","t":"2004-03-22 22","v":2.06},{"g":"T1","t":"2004-03-23 10","v":2.17},{"g":"T1","t":"2004-03-23 17","v":2.21},{"g":"T1","t":"2004-03-24 00","v":1.88},{"g":"T1","t":"2004-03-24 12","v":1.63},{"g":"T1","t":"2004-03-24 19","v":1.31},{"g":"T1","t":"2004-03-25 02","v":1.24},{"g":"T1","t":"2004-03-25 19","v":1.17},{"g":"T1","t":"2004-03-26 02","v":1.13},{"g":"T1","t":"2004-03-26 12","v":1.35},{"g":"T1","t":"2004-03-26 22","v":1.42},{"g":"T1","t":"2004-03-27 10","v":1.53},{"g":"T1","t":"2004-03-27 19","v":1.67},{"g":"T1","t":"2004-03-28 07","v":1.96},{"g":"T1","t":"2004-03-28 12","v":2.21},{"g":"T1","t":"2004-03-28 19","v":2.31},{"g":"T1","t":"2004-03-29 02","v":2.49},{"g":"T1","t":"2004-03-29 12","v":2.39},{"g":"T1","t":"2004-03-29 17","v":2.6},{"g":"T1","t":"2004-03-29 23","v":2.78},{"g":"T1","t":"2004-03-30 05","v":2.31},{"g":"T1","t":"2004-03-30 12","v":2.21},{"g":"T1","t":"2004-03-30 19","v":2.14},{"g":"T1","t":"2004-03-31 02","v":2.05},{"g":"T1","t":"2004-03-31 10","v":1.74},{"g":"T1","t":"2004-03-31 17","v":2.53},{"g":"T1","t":"2004-03-31 23","v":2.39},{"g":"T1","t":"2004-04-01 05","v":2.1},{"g":"T1","t":"2004-04-01 10","v":1.67},{"g":"T1","t":"2004-04-01 17","v":2.24},{"g":"T1","t":"2004-04-01 23","v":2.1},{"g":"T1","t":"2004-04-02 05","v":1.81},{"g":"T1","t":"2004-04-02 07","v":1.42},{"g":"T1","t":"2004-04-02 14","v":1.81},{"g":"T1","t":"2004-04-02 19","v":2.31},{"g":"T1","t":"2004-04-03 01","v":2.67},{"g":"T1","t":"2004-04-03 10","v":2.53},{"g":"T1","t":"2004-04-03 12","v":2.89},{"g":"T1","t":"2004-04-03 17","v":3.03},{"g":"T1","t":"2004-04-03 19","v":3.89},
          {"g":"T2","t":"2004-04-19 14","v":4.68},{"g":"T2","t":"2004-04-19 19","v":4.18},{"g":"T2","t":"2004-04-20 05","v":3.89},{"g":"T2","t":"2004-04-20 07","v":3.68},{"g":"T2","t":"2004-04-20 17","v":3.46},{"g":"T2","t":"2004-04-21 01","v":3.18},{"g":"T2","t":"2004-04-21 05","v":2.75},{"g":"T2","t":"2004-04-21 10","v":1.81},{"g":"T2","t":"2004-04-21 14","v":3.03},{"g":"T2","t":"2004-04-21 19","v":2.67},{"g":"T2","t":"2004-04-22 00","v":1.74},{"g":"T2","t":"2004-04-22 07","v":1.53},{"g":"T2","t":"2004-04-22 10","v":2.1},{"g":"T2","t":"2004-04-22 14","v":3.46},{"g":"T2","t":"2004-04-22 19","v":4.25},{"g":"T2","t":"2004-04-23 04","v":4.04},{"g":"T2","t":"2004-04-23 14","v":5.19},{"g":"T2","t":"2004-04-24 05","v":5.33},{"g":"T2","t":"2004-04-24 12","v":5.69},{"g":"T2","t":"2004-04-24 19","v":5.5},{"g":"T2","t":"2004-04-25 02","v":5.69},{"g":"T2","t":"2004-04-25 10","v":6.26},{"g":"T2","t":"2004-04-25 14","v":6.55},{"g":"T2","t":"2004-04-25 22","v":6.84},{"g":"T2","t":"2004-04-26 05","v":6.62},{"g":"T2","t":"2004-04-26 17","v":7.05},{"g":"T2","t":"2004-04-26 23","v":6.76},{"g":"T2","t":"2004-04-27 10","v":6.48},{"g":"T2","t":"2004-04-27 18","v":6.05},{"g":"T2","t":"2004-04-28 02","v":5.62},{"g":"T2","t":"2004-04-28 07","v":5.26},{"g":"T2","t":"2004-04-28 12","v":4.97},{"g":"T2","t":"2004-04-28 17","v":5.19},{"g":"T2","t":"2004-04-29 02","v":4.68},{"g":"T2","t":"2004-04-29 10","v":4.9},{"g":"T2","t":"2004-04-29 14","v":4.61},{"g":"T2","t":"2004-04-30 02","v":4.18},{"g":"T2","t":"2004-04-30 10","v":4.32},{"g":"T2","t":"2004-04-30 16","v":4.04},{"g":"T2","t":"2004-04-30 22","v":4.54},{"g":"T2","t":"2004-05-01 05","v":3.68},{"g":"T2","t":"2004-05-01 12","v":4.18},{"g":"T2","t":"2004-05-01 19","v":4.9},{"g":"T2","t":"2004-05-02 02","v":4.4},{"g":"T2","t":"2004-05-02 07","v":4.04},{"g":"T2","t":"2004-05-02 14","v":5.04},{"g":"T2","t":"2004-05-02 19","v":5.62},{"g":"T2","t":"2004-05-03 05","v":5.33},{"g":"T2","t":"2004-05-03 10","v":5.12},{"g":"T2","t":"2004-05-03 17","v":6.33},{"g":"T2","t":"2004-05-04 00","v":6.12},{"g":"T2","t":"2004-05-04 05","v":5.9},{"g":"T2","t":"2004-05-04 12","v":6.55},{"g":"T2","t":"2004-05-04 19","v":7.63},{"g":"T2","t":"2004-05-05 00","v":6.91},{"g":"T2","t":"2004-05-05 07","v":7.27},{"g":"T2","t":"2004-05-05 16","v":7.84},{"g":"T2","t":"2004-05-05 22","v":8.13},{"g":"T2","t":"2004-05-06 02","v":8.34},{"g":"T2","t":"2004-05-06 07","v":8.7},{"g":"T2","t":"2004-05-06 12","v":9.13},{"g":"T2","t":"2004-05-06 17","v":9.64},{"g":"T2","t":"2004-05-06 22","v":10.28},{"g":"T2","t":"2004-05-07 00","v":9.28},{"g":"T2","t":"2004-05-07 05","v":9.06},{"g":"T2","t":"2004-05-07 12","v":8.85},{"g":"T2","t":"2004-05-07 22","v":8.63},{"g":"T2","t":"2004-05-08 05","v":8.49},{"g":"T2","t":"2004-05-08 12","v":8.2},{"g":"T2","t":"2004-05-08 19","v":8.13},{"g":"T2","t":"2004-05-09 00","v":7.91},{"g":"T2","t":"2004-05-09 05","v":7.48},{"g":"T2","t":"2004-05-09 10","v":7.34},{"g":"T2","t":"2004-05-09 17","v":6.98},{"g":"T2","t":"2004-05-10 02","v":6.84},{"g":"T2","t":"2004-05-10 07","v":6.55},{"g":"T2","t":"2004-05-10 14","v":6.26},{"g":"T2","t":"2004-05-10 19","v":5.76},{"g":"T2","t":"2004-05-11 00","v":4.9},{"g":"T2","t":"2004-05-11 05","v":3.89},{"g":"T2","t":"2004-05-11 12","v":2.82},{"g":"T2","t":"2004-05-11 17","v":2.46},{"g":"T2","t":"2004-05-12 00","v":2.1},{"g":"T2","t":"2004-05-12 07","v":1.45},{"g":"T2","t":"2004-05-12 12","v":2.03},{"g":"T2","t":"2004-05-12 19","v":2.24},{"g":"T2","t":"2004-05-13 00","v":1.88},{"g":"T2","t":"2004-05-13 05","v":1.31},{"g":"T2","t":"2004-05-13 12","v":2.1},{"g":"T2","t":"2004-05-13 17","v":2.82},{"g":"T2","t":"2004-05-14 00","v":3.1},{"g":"T2","t":"2004-05-14 05","v":2.82},{"g":"T2","t":"2004-05-14 10","v":3.46},{"g":"T2","t":"2004-05-14 14","v":4.11},{"g":"T2","t":"2004-05-14 19","v":4.68},{"g":"T2","t":"2004-05-15 00","v":5.19},{"g":"T2","t":"2004-05-15 06","v":4.9},{"g":"T2","t":"2004-05-15 12","v":5.33},{"g":"T2","t":"2004-05-15 17","v":5.47},{"g":"T2","t":"2004-05-15 22","v":5.76},{"g":"T2","t":"2004-05-16 02","v":5.9},{"g":"T2","t":"2004-05-16 14","v":6.55},{"g":"T2","t":"2004-05-16 19","v":6.84},{"g":"T2","t":"2004-05-17 00","v":6.33},{"g":"T2","t":"2004-05-17 07","v":5.9},{"g":"T2","t":"2004-05-17 12","v":5.47},{"g":"T2","t":"2004-05-17 17","v":4.9},{"g":"T2","t":"2004-05-17 22","v":4.47},{"g":"T2","t":"2004-05-18 05","v":4.04},{"g":"T2","t":"2004-05-18 10","v":4.25},{"g":"T2","t":"2004-05-18 14","v":5.19},{"g":"T2","t":"2004-05-18 19","v":5.9},{"g":"T2","t":"2004-05-19 10","v":6.55},{"g":"T2","t":"2004-05-19 14","v":7.05},{"g":"T2","t":"2004-05-19 19","v":6.77},{"g":"T2","t":"2004-05-20 02","v":6.33},{"g":"T2","t":"2004-05-20 10","v":6.62},{"g":"T2","t":"2004-05-20 14","v":6.12},{"g":"T2","t":"2004-05-20 19","v":5.76},{"g":"T2","t":"2004-05-21 01","v":5.98},{"g":"T2","t":"2004-05-21 07","v":5.4},{"g":"T2","t":"2004-05-21 17","v":6.19},{"g":"T2","t":"2004-05-21 23","v":5.9},{"g":"T2","t":"2004-05-22 05","v":6.33},{"g":"T2","t":"2004-05-22 10","v":6.05},{"g":"T2","t":"2004-05-22 14","v":6.91},{"g":"T2","t":"2004-05-22 18","v":7.27},{"g":"T2","t":"2004-05-22 22","v":6.77},{"g":"T2","t":"2004-05-23 10","v":6.05},{"g":"T2","t":"2004-05-23 19","v":5.33},{"g":"T2","t":"2004-05-24 02","v":4.9},{"g":"T2","t":"2004-05-24 07","v":4.4},{"g":"T2","t":"2004-05-24 12","v":4.04},{"g":"T2","t":"2004-05-24 20","v":3.75},{"g":"T2","t":"2004-05-25 02","v":3.46},{"g":"T2","t":"2004-05-25 07","v":2.75},{"g":"T2","t":"2004-05-25 10","v":3.89},{"g":"T2","t":"2004-05-25 14","v":4.61},{"g":"T2","t":"2004-05-25 17","v":5.04},{"g":"T2","t":"2004-05-25 23","v":5.19},{"g":"T2","t":"2004-05-26 10","v":5.62},{"g":"T2","t":"2004-05-26 22","v":5.9},{"g":"T2","t":"2004-05-27 10","v":6.19},{"g":"T2","t":"2004-05-27 16","v":6.69},{"g":"T2","t":"2004-05-28 00","v":7.05},{"g":"T2","t":"2004-05-28 05","v":7.48},{"g":"T2","t":"2004-05-28 10","v":6.69},{"g":"T2","t":"2004-05-28 22","v":7.27},{"g":"T2","t":"2004-05-29 02","v":7.63},{"g":"T2","t":"2004-05-29 07","v":7.05},{"g":"T2","t":"2004-05-29 12","v":6.62},{"g":"T2","t":"2004-05-29 19","v":6.05},{"g":"T2","t":"2004-05-30 00","v":5.69},{"g":"T2","t":"2004-05-30 05","v":5.04},{"g":"T2","t":"2004-05-30 10","v":4.61},{"g":"T2","t":"2004-05-30 16","v":4.25},{"g":"T2","t":"2004-05-31 02","v":4.18},{"g":"T2","t":"2004-05-31 10","v":4.4},{"g":"T2","t":"2004-05-31 12","v":4.9},{"g":"T2","t":"2004-05-31 19","v":5.69},{"g":"T2","t":"2004-05-31 22","v":6.19},{"g":"T2","t":"2004-06-01 02","v":6.69},{"g":"T2","t":"2004-06-01 14","v":6.33},{"g":"T2","t":"2004-06-02 00","v":6.48},{"g":"T2","t":"2004-06-02 07","v":5.33},{"g":"T2","t":"2004-06-02 14","v":5.9},{"g":"T2","t":"2004-06-02 19","v":6.41},{"g":"T2","t":"2004-06-03 05","v":5.76},{"g":"T2","t":"2004-06-03 10","v":6.19},{"g":"T2","t":"2004-06-03 17","v":5.62},{"g":"T2","t":"2004-06-03 22","v":6.12},{"g":"T2","t":"2004-06-04 02","v":6.55},{"g":"T2","t":"2004-06-04 07","v":6.77},{"g":"T2","t":"2004-06-04 14","v":6.98},{"g":"T2","t":"2004-06-04 19","v":7.27},{"g":"T2","t":"2004-06-05 00","v":7.41},{"g":"T2","t":"2004-06-05 05","v":7.48},{"g":"T2","t":"2004-06-05 12","v":8.2},{"g":"T2","t":"2004-06-05 17","v":8.56},{"g":"T2","t":"2004-06-05 19","v":7.98},{"g":"T2","t":"2004-06-06 07","v":7.48},{"g":"T2","t":"2004-06-06 14","v":7.27},{"g":"T2","t":"2004-06-06 19","v":6.98},{"g":"T2","t":"2004-06-07 00","v":6.48},{"g":"T2","t":"2004-06-07 05","v":5.9},{"g":"T2","t":"2004-06-07 12","v":5.69},{"g":"T2","t":"2004-06-08 02","v":5.33},{"g":"T2","t":"2004-06-08 10","v":4.9},{"g":"T2","t":"2004-06-08 14","v":5.62},{"g":"T2","t":"2004-06-08 19","v":6.19},{"g":"T2","t":"2004-06-09 12","v":6.62},{"g":"T2","t":"2004-06-09 19","v":6.91},{"g":"T2","t":"2004-06-09 23","v":6.33},{"g":"T2","t":"2004-06-10 02","v":7.05},{"g":"T2","t":"2004-06-10 14","v":7.77},{"g":"T2","t":"2004-06-10 19","v":8.27},{"g":"T2","t":"2004-06-11 00","v":7.84},{"g":"T2","t":"2004-06-11 07","v":8.13},{"g":"T2","t":"2004-06-11 12","v":7.48},{"g":"T2","t":"2004-06-11 22","v":7.98},{"g":"T2","t":"2004-06-12 10","v":7.12},{"g":"T2","t":"2004-06-12 14","v":6.48},{"g":"T2","t":"2004-06-12 19","v":5.9},{"g":"T2","t":"2004-06-13 00","v":5.4},{"g":"T2","t":"2004-06-13 07","v":5.33},{"g":"T2","t":"2004-06-13 12","v":6.05},{"g":"T2","t":"2004-06-13 17","v":7.48},{"g":"T2","t":"2004-06-13 22","v":8.2},
          {"g":"T2","t":"2004-06-14 06","v":8.6},{"g":"T2","t":"2004-06-14 17","v":9.6},{"g":"T2","t":"2004-06-15 06","v":9.0},{"g":"T2","t":"2004-06-15 17","v":10.0},{"g":"T2","t":"2004-06-16 06","v":8.5},{"g":"T2","t":"2004-06-16 17","v":9.9},{"g":"T2","t":"2004-06-17 06","v":9.1},{"g":"T2","t":"2004-06-17 17","v":10.8},{"g":"T2","t":"2004-06-18 06","v":8.6},{"g":"T2","t":"2004-06-18 17","v":9.6},{"g":"T2","t":"2004-06-19 06","v":7.9},{"g":"T2","t":"2004-06-19 17","v":9.4},{"g":"T2","t":"2004-06-20 06","v":8.9},{"g":"T2","t":"2004-06-20 17","v":11.4},{"g":"T2","t":"2004-06-21 06","v":9.0},{"g":"T2","t":"2004-06-21 17","v":10.4},{"g":"T2","t":"2004-06-22 06","v":8.9},{"g":"T2","t":"2004-06-22 17","v":10.8},{"g":"T2","t":"2004-06-23 06","v":8.5},{"g":"T2","t":"2004-06-23 17","v":10.6},{"g":"T2","t":"2004-06-24 06","v":8.8},{"g":"T2","t":"2004-06-24 17","v":10.9},{"g":"T2","t":"2004-06-25 06","v":9.2},{"g":"T2","t":"2004-06-25 17","v":10.2},{"g":"T2","t":"2004-06-26 06","v":8.2},{"g":"T2","t":"2004-06-26 17","v":9.5},{"g":"T2","t":"2004-06-27 06","v":8.5},{"g":"T2","t":"2004-06-27 17","v":10.4},{"g":"T2","t":"2004-06-28 06","v":8.7},{"g":"T2","t":"2004-06-28 17","v":10.2},{"g":"T2","t":"2004-06-29 06","v":8.9},{"g":"T2","t":"2004-06-29 17","v":10.7},{"g":"T2","t":"2004-06-30 06","v":9.3},{"g":"T2","t":"2004-06-30 17","v":11.3},{"g":"T2","t":"2004-07-01 06","v":9.4},{"g":"T2","t":"2004-07-01 17","v":10.9},{"g":"T2","t":"2004-07-02 06","v":9.6},{"g":"T2","t":"2004-07-02 17","v":11.2},{"g":"T2","t":"2004-07-03 06","v":9.3},{"g":"T2","t":"2004-07-03 17","v":10.9},{"g":"T2","t":"2004-07-04 06","v":9.0},{"g":"T2","t":"2004-07-04 17","v":11.3},{"g":"T2","t":"2004-07-05 06","v":9.8},{"g":"T2","t":"2004-07-05 17","v":11.9},{"g":"T2","t":"2004-07-06 06","v":10.0},{"g":"T2","t":"2004-07-06 17","v":12.0},{"g":"T2","t":"2004-07-07 06","v":9.9},{"g":"T2","t":"2004-07-07 17","v":11.7},{"g":"T2","t":"2004-07-08 06","v":10.4},{"g":"T2","t":"2004-07-08 17","v":12.6},{"g":"T2","t":"2004-07-09 06","v":10.9},{"g":"T2","t":"2004-07-09 17","v":12.4},{"g":"T2","t":"2004-07-10 06","v":11.1},{"g":"T2","t":"2004-07-10 17","v":13.2},{"g":"T2","t":"2004-07-11 06","v":10.8},{"g":"T2","t":"2004-07-11 17","v":13.3},{"g":"T2","t":"2004-07-12 06","v":11.4},{"g":"T2","t":"2004-07-12 17","v":13.6},{"g":"T2","t":"2004-07-13 06","v":11.5},{"g":"T2","t":"2004-07-13 17","v":13.0},{"g":"T2","t":"2004-07-14 06","v":11.2},{"g":"T2","t":"2004-07-14 17","v":14.0},{"g":"T2","t":"2004-07-15 06","v":11.6},{"g":"T2","t":"2004-07-15 17","v":14.5},{"g":"T2","t":"2004-07-16 06","v":12.0},{"g":"T2","t":"2004-07-16 17","v":14.5},{"g":"T2","t":"2004-07-17 06","v":11.2},{"g":"T2","t":"2004-07-17 17","v":14.2},{"g":"T2","t":"2004-07-18 06","v":11.2},{"g":"T2","t":"2004-07-18 17","v":13.8},{"g":"T2","t":"2004-07-19 06","v":12.0},{"g":"T2","t":"2004-07-19 17","v":14.1},{"g":"T2","t":"2004-07-20 06","v":12.2},{"g":"T2","t":"2004-07-20 17","v":14.3},{"g":"T2","t":"2004-07-21 06","v":12.4},{"g":"T2","t":"2004-07-21 17","v":13.9},{"g":"T2","t":"2004-07-22 06","v":12.5},{"g":"T2","t":"2004-07-22 17","v":14.3},{"g":"T2","t":"2004-07-23 06","v":12.3},{"g":"T2","t":"2004-07-23 17","v":14.9},{"g":"T2","t":"2004-07-24 06","v":12.6},{"g":"T2","t":"2004-07-24 17","v":14.2},{"g":"T2","t":"2004-07-25 06","v":12.0},{"g":"T2","t":"2004-07-25 17","v":12.6},{"g":"T2","t":"2004-07-26 06","v":11.2},{"g":"T2","t":"2004-07-26 17","v":13.0},{"g":"T2","t":"2004-07-27 06","v":12.0},{"g":"T2","t":"2004-07-27 17","v":13.9},{"g":"T2","t":"2004-07-28 06","v":12.6},{"g":"T2","t":"2004-07-28 17","v":13.7},{"g":"T2","t":"2004-07-29 06","v":12.4},{"g":"T2","t":"2004-07-29 17","v":13.9},{"g":"T2","t":"2004-07-30 06","v":12.6},{"g":"T2","t":"2004-07-30 17","v":14.1},{"g":"T2","t":"2004-07-31 06","v":12.5},{"g":"T2","t":"2004-07-31 17","v":14.0},{"g":"T2","t":"2004-08-01 06","v":12.7},{"g":"T2","t":"2004-08-01 17","v":14.7},{"g":"T2","t":"2004-08-02 02","v":12.8}
        ]
      },
      "mark": {"type": "line", "strokeWidth": 2.6, "clip": true},
      "encoding": {
        "x": {"field": "t", "type": "temporal"},
        "y": {
          "field": "v", "type": "quantitative",
          "scale": {"domain": [0, 16], "nice": false},
          "axis": {
            "orient": "right",
            "values": [0, 2, 4, 6, 8, 10, 12, 14, 16],
            "title": "Temperature (C°)",
            "titleFontSize": 15,
            "titleAngle": 270,
            "titleX": 92,
            "titleY": 371.5,
            "titleAlign": "center",
            "titleBaseline": "bottom",
            "tickSize": 9,
            "tickColor": "#444444",
            "domainColor": "#333333",
            "domainWidth": 1.5,
            "labelFontSize": 16,
            "labelPadding": 12
          }
        },
        "color": {"field": "g", "type": "nominal"},
        "strokeDash": {"field": "g", "type": "nominal", "legend": null}
      }
    }
  ],
  "resolve": {"scale": {"y": "independent"}}
}
